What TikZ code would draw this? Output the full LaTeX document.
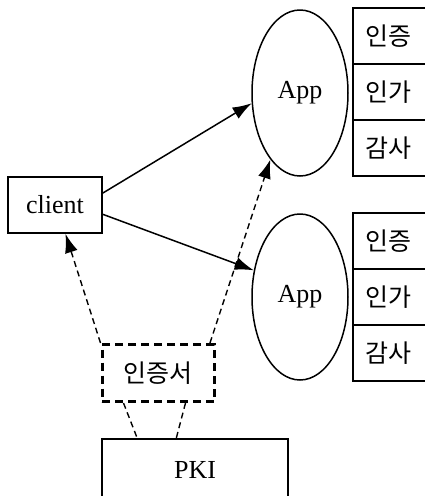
\documentclass[tikz,border=0pt]{standalone}
\usepackage{fontspec}
\setmainfont{Liberation Serif}
\newfontfamily\kr{Noto Sans CJK KR}
\usetikzlibrary{positioning,shapes.geometric,arrows.meta}
\tikzset{>={Latex[length=19pt,width=13pt]}}
\tikzset{
  lat/.style={font=\fontsize{26}{30}\selectfont},
  hangul/.style={font=\kr\fontsize{25}{29}\selectfont},
  appnode/.style={draw,ellipse,line width=1.5pt,minimum width=96pt,minimum height=166pt,inner sep=0pt,lat},
  rowbox/.style={draw,rectangle,line width=1.5pt,minimum width=76pt,minimum height=56pt,outer sep=0pt,hangul,text width=52pt,align=left},
  link/.style={line width=1.5pt,->},
  certlink/.style={line width=1.4pt,dash pattern=on 6pt off 4pt},
}

\begin{document}
\begin{tikzpicture}[x=1pt,y=-1pt]
        \useasboundingbox (0,0) rectangle (424,496);
        \node[draw,line width=1.5pt,minimum width=94pt,minimum height=56pt,lat] (client) at (55,205) {client};
        \node[appnode] (app1) at (300,93) {App};
        \node[appnode] (app2) at (300,297) {App};
        % tables beside the apps
        \node[rowbox] (authn1) at (391,36) {인증};
        \node[rowbox,below=0pt of authn1] (authz1) {인가};
        \node[rowbox,below=0pt of authz1] (audit1) {감사};
        \node[rowbox] (authn2) at (391,241) {인증};
        \node[rowbox,below=0pt of authn2] (authz2) {인가};
        \node[rowbox,below=0pt of authz2] (audit2) {감사};
        \node[draw,line width=3pt,dash pattern=on 8pt off 5pt,minimum width=112pt,minimum height=57pt,hangul] (cert) at (158,373) {인증서};
        \node[draw,line width=1.5pt,minimum width=186pt,minimum height=62pt,lat] (pki) at (195,470) {PKI};
        \draw[link] (client.14) -- (app1.192);
        \draw[link] (client.-11) -- (app2.150);
        \draw[certlink,->] (cert.north west) -- (client.-70);
        \draw[certlink,->] (cert.30) -- (app1.246);
        \draw[certlink] ([xshift=23pt]cert.south west) -- ([xshift=36pt]pki.north west);
        \draw[certlink] ([xshift=85pt]cert.south west) -- ([xshift=75pt]pki.north west);
      \end{tikzpicture}
\end{document}
